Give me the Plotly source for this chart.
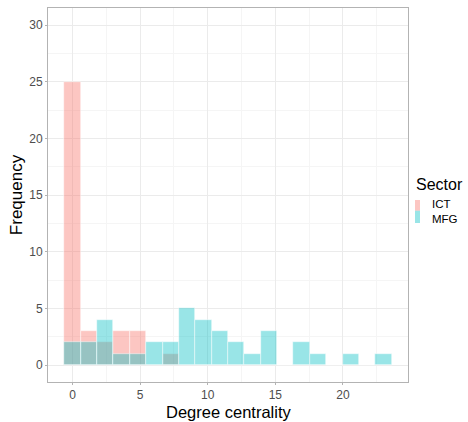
import plotly.graph_objects as go

# Histogram bins (20 bins of width 23/19, centred at multiples of the width)
n_bins = 20
bin_width = 23 / 19
bin_centers = [i * bin_width for i in range(n_bins)]

sectors = ["ICT", "MFG"]
ict_counts = [25, 3, 2, 3, 3, 0, 1, 0, 0, 0, 0, 0, 0, 0, 0, 0, 0, 0, 0, 0]
mfg_counts = [2, 2, 4, 1, 1, 2, 2, 5, 4, 3, 2, 1, 3, 0, 2, 1, 0, 1, 0, 1]

x_ticks = [0, 5, 10, 15, 20]
y_ticks = [0, 5, 10, 15, 20, 25, 30]

colors = {"ICT": "rgba(248,118,109,0.42)", "MFG": "rgba(0,191,196,0.40)"}

fig = go.Figure()
for name, counts in zip(sectors, [ict_counts, mfg_counts]):
    fig.add_trace(go.Bar(
        x=bin_centers, y=counts, width=bin_width, name=name, showlegend=False,
        marker=dict(color=colors[name], line=dict(color="rgba(255,255,255,0.8)", width=0.6)),
    ))

axis_common = dict(
    showline=True, mirror=True, linecolor="#B3B3B3", linewidth=1,
    showgrid=True, gridcolor="#EBEBEB", gridwidth=0.6,
    zeroline=False,
    ticks="outside", ticklen=2, tickcolor="#B3B3B3",
    tickfont=dict(size=12, color="#4D4D4D"),
    minor=dict(showgrid=True, gridcolor="#F5F5F5", gridwidth=0.5),
)

top, bottom = 8, 40
fig.update_layout(
    width=468, height=422,
    barmode="overlay", bargap=0,
    paper_bgcolor="white", plot_bgcolor="white",
    font=dict(family="Liberation Sans, Arial, sans-serif", color="black"),
    margin=dict(l=48, r=60, t=top, b=bottom, autoexpand=False),
    showlegend=False,
    xaxis=dict(range=[-1.815, 24.815], tickvals=x_ticks, **axis_common),
    yaxis=dict(
        range=[-1.5, 31.5], tickvals=y_ticks,
        title=dict(text="Frequency", font=dict(size=17, color="black"), standoff=2),
        **axis_common,
    ),
)
fig.update_xaxes(minor=dict(tickvals=[2.5, 7.5, 12.5, 17.5, 22.5]))
fig.update_yaxes(minor=dict(tickvals=[2.5, 7.5, 12.5, 17.5, 22.5, 27.5]))

# pixel -> paper helpers
px0, pw = 48, 360
py0, ph = 422 - bottom, 422 - bottom - top
def px(x):
    return (x - px0) / pw
def py(y):
    return (py0 - y) / ph

# x-axis title
fig.add_annotation(text="Degree centrality", x=0.5, y=py(422), xref="paper", yref="paper",
                   xanchor="center", yanchor="bottom", showarrow=False, borderpad=0,
                   font=dict(size=16.5, color="black"))

# Legend (keys + labels to the right of the panel)
fig.add_annotation(text="Sector", x=px(414), y=py(184), xref="paper", yref="paper",
                   xanchor="left", yanchor="middle", showarrow=False,
                   font=dict(size=16, color="black"))
key_rows = [(200, 210.7), (210.7, 223)]
for name, (ytop, ybot) in zip(sectors, key_rows):
    fig.add_shape(type="rect", xref="paper", yref="paper",
                  x0=px(415), x1=px(420), y0=py(ybot), y1=py(ytop),
                  fillcolor=colors[name], line=dict(width=0))
fig.add_annotation(text="<br>".join(sectors), x=px(430), y=py(212), xref="paper", yref="paper",
                   xanchor="left", yanchor="middle", align="left", showarrow=False,
                   font=dict(size=11.5, color="black"))

fig.write_html("out.html")
